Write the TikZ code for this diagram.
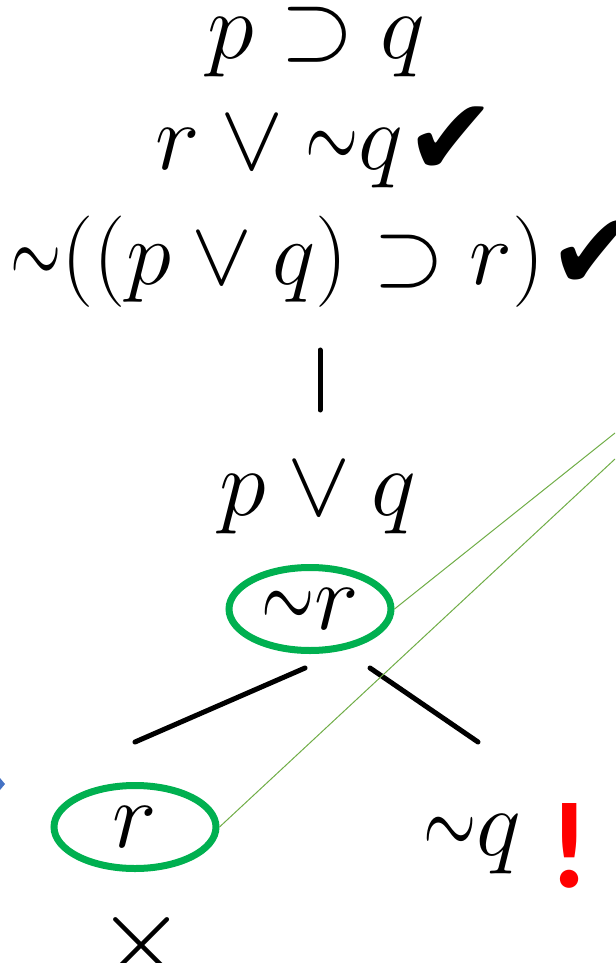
\RequirePackage{fix-cm}
\documentclass[tikz,border=0pt]{standalone}
\usepackage{fontspec}
\usepackage{graphicx}
\usepackage{tkz-euclide}
\usetikzlibrary{arrows,calc,shapes.geometric}
\newfontfamily\chkfont{DejaVu Sans}
\newfontfamily\bangfont{Carlito}
\newcommand\nt{\mathord{\scalebox{.72}[1.1]{$\sim$}}}
\definecolor{ringgreen}{RGB}{0,176,80}
\definecolor{linkgreen}{RGB}{112,173,71}
\definecolor{tipblue}{RGB}{68,114,196}

\begin{document}
\begin{tikzpicture}[x=.2mm,y=-.2mm]
\useasboundingbox (0,0) rectangle (615,963);
\tikzset{formula/.style={anchor=base,inner sep=0pt,font=\fontsize{54}{60}\selectfont},
  tick/.style={anchor=base,inner sep=0pt,font=\chkfont\fontsize{62}{64}\selectfont},
  ring/.style={ellipse,draw=ringgreen,line width=1.4mm,inner sep=0pt,
    minimum width=32.4mm,minimum height=16.6mm,font=\fontsize{54}{60}\selectfont}}
\tkzSetUpLine[line width=1mm,color=black]

% the tableau
\node[formula] (pq) at (316,59) {$p \supset q$};
\node[formula,anchor=base west] (rq) at (155,170) {$r \vee \nt q$};
\node[tick] (rqtick) at (451,176) {✔};
\node[formula,anchor=base west,font=\fontsize{52}{60}\selectfont] (neg) at (10,285) {$\nt((p \vee q) \supset r)$};
\node[tick] (negtick) at (594,290) {✔};
\node[formula] (porq) at (318,515) {$p \vee q$};
\node[ring] (notr) at (310,609) {$\nt r$};
\node[ring] (r) at (135,827) {$r$};
\node[formula] (notq) at (472,855) {$\nt q$};
\node[anchor=base,inner sep=0pt,text=red,font=\bangfont\bfseries\fontsize{70}{80}\selectfont] (bang) at (570,887) {!};
\node[inner sep=0pt,font=\fontsize{66}{70}\selectfont] (cross) at (142,945) {$\times$};

\tkzDefPoint(320,350){a}
\tkzDefPoint(320,410){b}
\tkzDefPoint(305,668){c}
\tkzDefPoint(135,742){d}
\tkzDefPoint(370,668){e}
\tkzDefPoint(478,742){f}
\tkzDrawSegments(a,b c,d e,f)

% links to the margin
\coordinate (u) at (615,433);
\coordinate (w) at (615,459);
\draw[linkgreen,line width=.2mm] (notr.east) -- (u);
\draw[linkgreen,line width=.2mm] (r.east) -- (w);

\fill[tipblue] (0,778) -- (5,784) -- (0,790) -- cycle;

\end{tikzpicture}
\end{document}
